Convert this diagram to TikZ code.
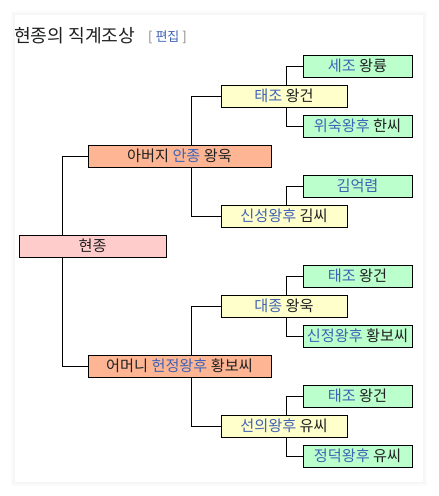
\documentclass[tikz,border=0pt]{standalone}
\usepackage{fontspec}
\setmainfont{Noto Sans CJK KR}
\definecolor{linkc}{HTML}{3F63B5}
\definecolor{txt}{HTML}{202122}
\definecolor{cpink}{HTML}{FFCCCC}
\definecolor{corange}{HTML}{FDB594}
\definecolor{cyellow}{HTML}{FFFFCC}
\definecolor{cgreen}{HTML}{BBFFCC}
\tikzset{
  box/.style={draw=black, line width=0.9pt, inner sep=0pt, minimum height=22pt, text=txt, font=\fontsize{15.2}{17}\selectfont},
  gen0/.style={box, fill=cpink, minimum width=147pt},
  gen1/.style={box, fill=corange, minimum width=183pt},
  gen2/.style={box, fill=cyellow, minimum width=126pt},
  gen3/.style={box, fill=cgreen, minimum width=109pt},
  conn/.style={draw=black, line width=0.9pt},
}
\newcommand{\lk}[1]{\textcolor{linkc}{#1}}
\begin{document}
\begin{tikzpicture}[x=1pt,y=-1pt]
\useasboundingbox (0,0) rectangle (439,496);
\fill[white] (0,0) rectangle (439,496);
\fill[gray!3] (11,11) rectangle (427,486);
\fill[gray!7] (13,13) rectangle (425,484);
\fill[white] (15,15) rectangle (423,482);
% title
\node[anchor=west, inner sep=0pt, text=txt, font=\fontsize{18.2}{20}\selectfont] (title) at (14,36) {현종의 직계조상};
\node[anchor=west, inner sep=0pt, font=\fontsize{13}{15}\selectfont] (edit) at (148,37) {\textcolor{gray}{[}\ \lk{편집}\ \textcolor{gray}{]}};
% nodes
\node[gen0] (hj) at (92.5,246) {현종};
\node[gen1] (fa) at (179.5,156) {아버지 \lk{안종} 왕욱};
\node[gen1] (mo) at (179.5,366) {어머니 \lk{헌정왕후} 황보씨};
\node[gen2] (y1) at (284,96) {\lk{태조} 왕건};
\node[gen2] (y2) at (284,216) {\lk{신성왕후} 김씨};
\node[gen2] (y3) at (284,306) {\lk{대종} 왕욱};
\node[gen2] (y4) at (284,426) {\lk{선의왕후} 유씨};
\node[gen3] (g1) at (357.5,66) {\lk{세조} 왕륭};
\node[gen3] (g2) at (357.5,126) {\lk{위숙왕후} 한씨};
\node[gen3] (g3) at (357.5,186) {\lk{김억렴}};
\node[gen3] (g4) at (357.5,276) {\lk{태조} 왕건};
\node[gen3] (g5) at (357.5,336) {\lk{신정왕후} 황보씨};
\node[gen3] (g6) at (357.5,396) {\lk{태조} 왕건};
\node[gen3] (g7) at (357.5,456) {\lk{정덕왕후} 유씨};
% connectors
\draw[conn] ([xshift=44pt]hj.north west) |- (fa.west);
\draw[conn] ([xshift=44pt]hj.south west) |- (mo.west);
\draw[conn] ([xshift=104pt]fa.north west) |- (y1.west);
\draw[conn] ([xshift=104pt]fa.south west) |- (y2.west);
\draw[conn] ([xshift=104pt]mo.north west) |- (y3.west);
\draw[conn] ([xshift=104pt]mo.south west) |- (y4.west);
\draw[conn] ([xshift=66pt]y1.north west) |- (g1.west);
\draw[conn] ([xshift=66pt]y1.south west) |- (g2.west);
\draw[conn] ([xshift=66pt]y2.north west) |- (g3.west);
\draw[conn] ([xshift=66pt]y3.north west) |- (g4.west);
\draw[conn] ([xshift=66pt]y3.south west) |- (g5.west);
\draw[conn] ([xshift=66pt]y4.north west) |- (g6.west);
\draw[conn] ([xshift=66pt]y4.south west) |- (g7.west);
\end{tikzpicture}
\end{document}
